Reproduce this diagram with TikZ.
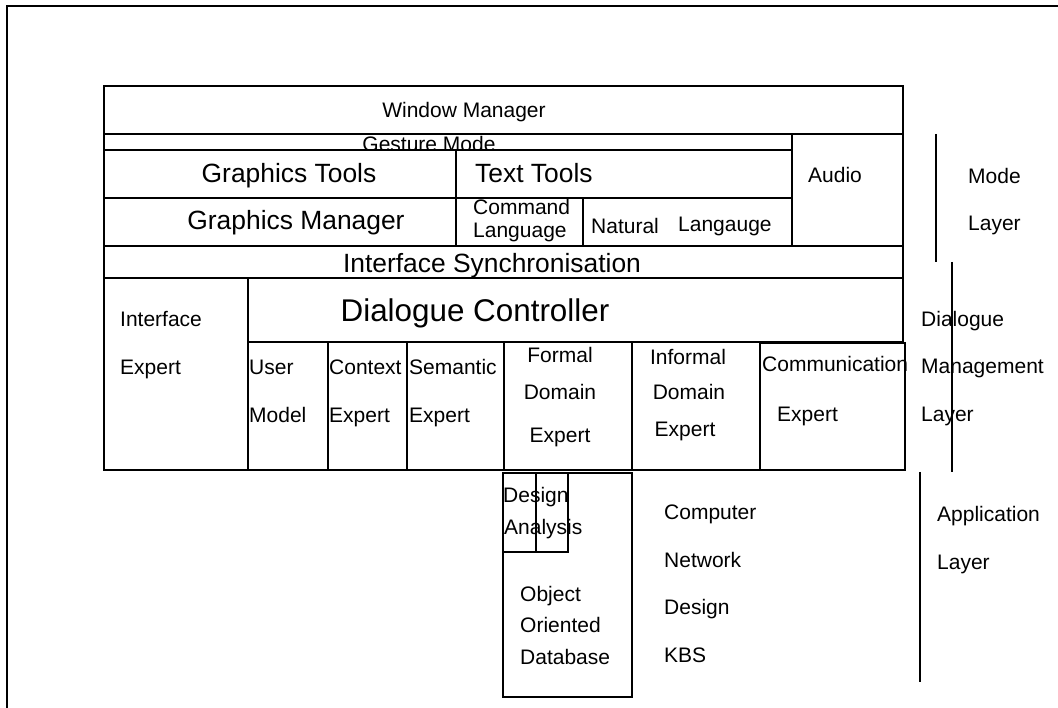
\documentclass[tikz,border=0pt]{standalone}
\usepackage{fontspec}
\setmainfont{Liberation Sans}
\begin{document}
\begin{tikzpicture}[x=1pt,y=-1pt,
  ln/.style={line width=1.7pt, line join=miter},
  wbox/.style={ln, fill=white},
  sm/.style={inner sep=0pt, font=\fontsize{21}{24}\selectfont},
  md/.style={inner sep=0pt, font=\fontsize{26.4}{30}\selectfont},
  lg/.style={inner sep=0pt, font=\fontsize{31.4}{36}\selectfont}]
\useasboundingbox (0,0) rectangle (1058,708);
% outer frame (only top and left visible)
\draw[ln] (7,708) -- (7,6) -- (1058,6);
% Mode layer
\draw[ln] (104,86) rectangle (903,134);
\node[sm, anchor=base] (wm) at (464,118) {Window Manager};
\node[sm, anchor=base] (gm) at (429,152) {Gesture Mode};
\draw[ln] (104,134) rectangle (792,150);
\draw[wbox] (104,150) rectangle (456,198);
\draw[wbox] (456,150) rectangle (792,198);
\draw[ln] (792,134) rectangle (903,246);
\draw[ln] (104,198) rectangle (456,246);
\draw[ln] (456,198) rectangle (583,246);
\draw[ln] (583,198) rectangle (792,246);
\node[md, anchor=base] (gt) at (289,183) {Graphics Tools};
\node[md, anchor=base west] (tt) at (475,183) {Text Tools};
\node[md, anchor=base] (gman) at (296,230) {Graphics Manager};
\node[sm, anchor=base west] (cmd1) at (473,215) {Command};
\node[sm, anchor=base west] (cmd2) at (473,238) {Language};
\node[sm, anchor=base west] (nat) at (591,234) {Natural};
\node[sm, anchor=base west] (lang) at (678,232) {Langauge};
\node[sm, anchor=base west] (aud) at (808,183) {Audio};
% Interface synchronisation
\draw[ln] (104,246) rectangle (903,278);
\node[md, anchor=base] (isync) at (492,273) {Interface Synchronisation};
% Dialogue management layer
\draw[ln] (104,278) rectangle (248,470);
\draw[ln] (248,278) rectangle (903,342);
\node[lg, anchor=base] (dc) at (475,322) {Dialogue Controller};
\node[sm, anchor=base west] (ie1) at (120,327) {Interface};
\node[sm, anchor=base west] (ie2) at (120,375) {Expert};
\draw[ln] (248,342) rectangle (328,470);
\draw[ln] (328,342) rectangle (407,470);
\draw[ln] (407,342) rectangle (504,470);
\draw[ln] (504,342) rectangle (632,470);
\draw[ln] (632,342) rectangle (760,470);
\draw[ln] (760,343) rectangle (905,470);
\node[sm, anchor=base west] (um1) at (249,375) {User};
\node[sm, anchor=base west] (um2) at (249,423) {Model};
\node[sm, anchor=base west] (ce1) at (329,375) {Context};
\node[sm, anchor=base west] (ce2) at (329,423) {Expert};
\node[sm, anchor=base west] (se1) at (409,375) {Semantic};
\node[sm, anchor=base west] (se2) at (409,423) {Expert};
\node[sm, anchor=base] (fd1) at (560,363) {Formal};
\node[sm, anchor=base] (fd2) at (560,400) {Domain};
\node[sm, anchor=base] (fd3) at (560,443) {Expert};
\node[sm, anchor=base] (id1) at (688,365) {Informal};
\node[sm, anchor=base] (id2) at (689,400) {Domain};
\node[sm, anchor=base] (id3) at (685,437) {Expert};
\node[sm, anchor=base west] (co1) at (762,372) {Communication};
\node[sm, anchor=base west] (co2) at (777,422) {Expert};
% Application layer
\draw[ln] (503,473) rectangle (632,697);
\draw[ln] (503,473) rectangle (536,552);
\draw[ln] (536,473) rectangle (568,552);
\node[sm, anchor=base west] (des) at (503,503) {Design};
\node[sm, anchor=base west] (ana) at (504,534) {Analysis};
\node[sm, anchor=base west] (oo1) at (520,601) {Object};
\node[sm, anchor=base west] (oo2) at (520,632) {Oriented};
\node[sm, anchor=base west] (oo3) at (520,664) {Database};
\node[sm, anchor=base west] (cn1) at (664,519) {Computer};
\node[sm, anchor=base west] (cn2) at (664,567) {Network};
\node[sm, anchor=base west] (cn3) at (664,614) {Design};
\node[sm, anchor=base west] (cn4) at (664,662) {KBS};
% layer markers
\draw[ln] (936,134) -- (936,262);
\draw[ln] (952,262) -- (952,472);
\draw[ln] (920,472) -- (920,682);
\node[sm, anchor=base west] (ml1) at (968,184) {Mode};
\node[sm, anchor=base west] (ml2) at (968,231) {Layer};
\node[sm, anchor=base west] (dl1) at (921,327) {Dialogue};
\node[sm, anchor=base west] (dl2) at (921,374) {Management};
\node[sm, anchor=base west] (dl3) at (921,422) {Layer};
\node[sm, anchor=base west] (al1) at (937,521) {Application};
\node[sm, anchor=base west] (al2) at (937,569) {Layer};
\end{tikzpicture}
\end{document}
